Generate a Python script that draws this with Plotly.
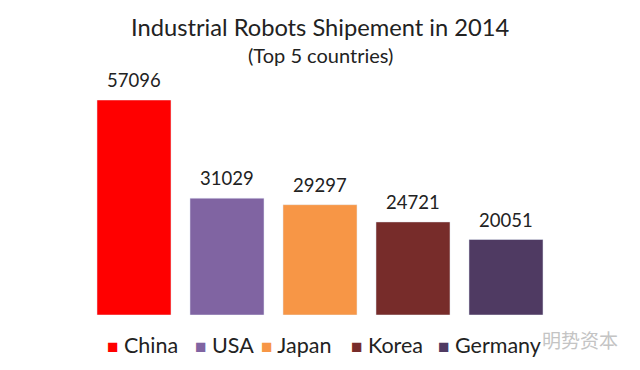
import plotly.graph_objects as go

countries = ["China", "USA", "Japan", "Korea", "Germany"]
shipments = [57096, 31029, 29297, 24721, 20051]
colors = ["#FF0000", "#8064A2", "#F79646", "#772C2A", "#4F3A62"]
title = "Industrial Robots Shipement in 2014"
subtitle = "(Top 5 countries)"
watermark = "明势资本"
FONT = "Lato, Open Sans, sans-serif"
INK = "#222222"
W, H = 640, 370
key_x = [105, 193, 259, 349, 436]  # left edge of each key entry, px


def top(px):
    return 1 - px / H


fig = go.Figure()
for c, v, col, kx in zip(countries, shipments, colors, key_x):
    fig.add_trace(go.Bar(x=[c], y=[v], name=c, marker_color=col, width=0.796,
                         offsetgroup=0, showlegend=False))
    fig.add_annotation(x=c, y=v, xref="x", yref="y", yanchor="bottom", yshift=7,
                       text=str(v), showarrow=False, font=dict(size=18.5, color=INK))
    fig.add_annotation(x=kx / W, y=top(345), xref="paper", yref="paper", xanchor="left",
                       yanchor="middle", showarrow=False, font=dict(size=21.5, color=INK),
                       text=f"<span style='color:{col};font-size:19px'>■</span> {c}")

fig.add_annotation(x=320 / W, y=top(27), xref="paper", yref="paper", yanchor="middle",
                   text=title, showarrow=False, font=dict(size=23.7, color=INK))
fig.add_annotation(x=320 / W, y=top(55), xref="paper", yref="paper", yanchor="middle",
                   text=subtitle, showarrow=False, font=dict(size=20, color=INK))
fig.add_annotation(x=620 / W, y=top(339), xref="paper", yref="paper", xanchor="right",
                   yanchor="middle", text=watermark, showarrow=False,
                   font=dict(size=19, color="#C4C4C4", family="Noto Sans CJK SC"))

fig.update_layout(
    width=W, height=H, margin=dict(l=0, r=0, t=0, b=0),
    paper_bgcolor="white", plot_bgcolor="white", font=dict(family=FONT, color=INK),
    showlegend=False,
    xaxis=dict(domain=[87.5 / W, 552.5 / W], range=[-0.5, 4.5], visible=False,
               categoryorder="array", categoryarray=countries),
    yaxis=dict(domain=[1 - 315 / H, 1 - 100 / H], range=[0, 57096], visible=False),
)
fig.write_html("out.html", config={"displayModeBar": False},
               post_script="document.body.style.margin='0';")
